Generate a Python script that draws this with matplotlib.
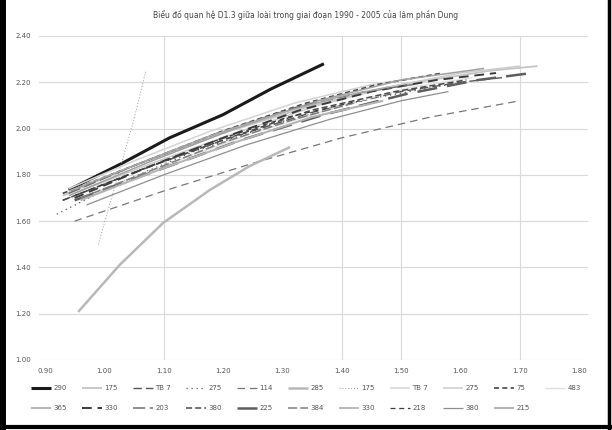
import matplotlib
matplotlib.use("Agg")
import matplotlib.pyplot as plt
from matplotlib.lines import Line2D

title = "Biểu đồ quan hệ D1.3 giữa loài trong giai đoạn 1990 - 2005 của lâm phần Dung"

x_ticks = [0.90, 1.00, 1.10, 1.20, 1.30, 1.40, 1.50, 1.60, 1.70, 1.80]
y_ticks = [1.00, 1.20, 1.40, 1.60, 1.80, 2.00, 2.20, 2.40]

# series: label, x values, y values
labels = ["290", "175", "TB 7", "275", "114", "285", "175", "TB 7", "275", "75", "483",
          "365", "330", "203", "380", "225", "384", "330", "218", "380", "215"]

xs = [
    [0.94, 1.03, 1.11, 1.20, 1.28, 1.37],
    [0.93, 1.05, 1.20, 1.35, 1.50, 1.65, 1.73],
    [0.93, 1.05, 1.20, 1.35, 1.50, 1.60, 1.67],
    [0.92, 1.02, 1.15, 1.30, 1.45, 1.58],
    [0.95, 1.10, 1.25, 1.40, 1.55, 1.70],
    [0.956, 1.026, 1.099, 1.178, 1.245, 1.313],
    [0.99, 1.01, 1.03, 1.05, 1.07],
    [0.94, 1.05, 1.18, 1.32, 1.45, 1.55],
    [0.95, 1.08, 1.22, 1.36, 1.48, 1.60, 1.70],
    [0.93, 1.06, 1.20, 1.34, 1.46, 1.57],
    [0.96, 1.10, 1.25, 1.40, 1.52, 1.62],
    [0.94, 1.08, 1.22, 1.36, 1.50, 1.64],
    [0.95, 1.07, 1.20, 1.33, 1.45, 1.56, 1.66],
    [0.94, 1.06, 1.19, 1.32, 1.44, 1.52],
    [0.93, 1.07, 1.21, 1.35, 1.49, 1.61],
    [0.95, 1.09, 1.23, 1.37, 1.51, 1.63, 1.72],
    [0.96, 1.08, 1.20, 1.32, 1.42],
    [0.94, 1.06, 1.18, 1.30, 1.40, 1.48],
    [0.95, 1.07, 1.19, 1.31, 1.43],
    [0.97, 1.10, 1.24, 1.38, 1.50, 1.58],
    [0.96, 1.09, 1.22, 1.35, 1.47],
]
ys = [
    [1.735, 1.85, 1.96, 2.06, 2.17, 2.28],
    [1.71, 1.84, 1.98, 2.10, 2.19, 2.25, 2.27],
    [1.69, 1.81, 1.95, 2.07, 2.16, 2.20, 2.22],
    [1.63, 1.76, 1.90, 2.03, 2.13, 2.19],
    [1.60, 1.73, 1.85, 1.96, 2.05, 2.12],
    [1.208, 1.411, 1.592, 1.735, 1.838, 1.92],
    [1.50, 1.68, 1.86, 2.04, 2.25],
    [1.74, 1.86, 1.99, 2.11, 2.19, 2.23],
    [1.72, 1.85, 1.98, 2.10, 2.18, 2.24, 2.27],
    [1.72, 1.85, 1.99, 2.11, 2.19, 2.24],
    [1.70, 1.84, 1.98, 2.10, 2.18, 2.22],
    [1.71, 1.86, 2.00, 2.12, 2.21, 2.26],
    [1.70, 1.83, 1.96, 2.08, 2.16, 2.21, 2.24],
    [1.72, 1.85, 1.98, 2.09, 2.16, 2.19],
    [1.69, 1.83, 1.96, 2.08, 2.16, 2.21],
    [1.69, 1.82, 1.95, 2.06, 2.15, 2.21, 2.24],
    [1.70, 1.82, 1.94, 2.04, 2.11],
    [1.73, 1.85, 1.97, 2.07, 2.14, 2.18],
    [1.71, 1.83, 1.95, 2.05, 2.12],
    [1.67, 1.80, 1.93, 2.04, 2.12, 2.16],
    [1.69, 1.82, 1.94, 2.05, 2.12],
]

styles = [
    dict(color="#1a1a1a", lw=2.2, ls="-"),
    dict(color="#c4c4c4", lw=1.3, ls="-"),
    dict(color="#555555", lw=1.0, ls=(0, (6, 3))),
    dict(color="#555555", lw=0.9, ls=(0, (1, 3))),
    dict(color="#777777", lw=0.9, ls=(0, (6, 4))),
    dict(color="#b8b8b8", lw=1.8, ls="-"),
    dict(color="#9a9a9a", lw=0.7, ls=(0, (1, 2))),
    dict(color="#d4d4d4", lw=1.1, ls="-"),
    dict(color="#cccccc", lw=1.1, ls="-"),
    dict(color="#444444", lw=1.2, ls=(0, (3, 2))),
    dict(color="#e0e0e0", lw=1.0, ls="-"),
    dict(color="#a0a0a0", lw=1.1, ls="-"),
    dict(color="#3a3a3a", lw=1.4, ls=(0, (5, 3))),
    dict(color="#707070", lw=1.1, ls=(0, (8, 3))),
    dict(color="#4a4a4a", lw=1.1, ls=(0, (4, 2))),
    dict(color="#5e5e5e", lw=1.8, ls=(0, (8, 4))),
    dict(color="#7e7e7e", lw=1.1, ls=(0, (6, 2))),
    dict(color="#a8a8a8", lw=1.1, ls="-"),
    dict(color="#3c3c3c", lw=0.9, ls=(0, (4, 3))),
    dict(color="#8e8e8e", lw=0.9, ls="-"),
    dict(color="#b4b4b4", lw=1.5, ls="-"),
]

vgrid_at = [1.10, 1.40, 1.50, 1.70]

fig = plt.figure(figsize=(6.12, 4.30), dpi=100)
ax = fig.add_axes([39 / 612, 70 / 430, 549 / 612, 324 / 430])

handles = []
for lab, x, y, st in zip(labels, xs, ys, styles):
    h, = ax.plot(x, y, label=lab, solid_capstyle="butt", **st)
    handles.append(h)

ax.set_xlim(0.89, 1.815)
ax.set_ylim(1.00, 2.40)
ax.set_xticks(x_ticks)
ax.set_yticks(y_ticks)
ax.set_xticklabels([f"{v:.2f}" for v in x_ticks])
ax.set_yticklabels([f"{v:.2f}" for v in y_ticks])
ax.tick_params(length=0, labelsize=5, labelcolor="#555555", pad=6)
ax.yaxis.grid(True, color="#d9d9d9", lw=0.8)
for v in vgrid_at:
    ax.axvline(v, color="#d9d9d9", lw=0.8, zorder=0)
for s in ax.spines.values():
    s.set_visible(False)
ax.set_axisbelow(True)

fig.text(0.5, 1 - 15 / 430, title, ha="center", va="center", fontsize=5.5, color="#444444")

# legend in two rows, filled row by row
ncol = 11
rows = [list(range(0, 11)), list(range(11, 21))]
order = []
for c in range(ncol):
    for r in rows:
        if c < len(r):
            order.append(r[c])
leg = fig.legend([handles[i] for i in order], [labels[i] for i in order],
                 ncol=ncol, loc="center", bbox_to_anchor=(0.5, 1 - 398 / 430),
                 fontsize=5, frameon=False, handlelength=2.8, columnspacing=2.2,
                 handletextpad=0.4, labelspacing=2.0)
for t in leg.get_texts():
    t.set_color("#555555")

# frame around the chart (left, bottom, right)
fig.add_artist(Line2D([0.004, 0.004], [0, 1], color="black", lw=5, transform=fig.transFigure))
fig.add_artist(Line2D([0, 1], [0.006, 0.006], color="black", lw=3, transform=fig.transFigure))
fig.add_artist(Line2D([0.995, 0.995], [0, 1], color="black", lw=2.5, transform=fig.transFigure))

fig.savefig("out.png", dpi=100)
